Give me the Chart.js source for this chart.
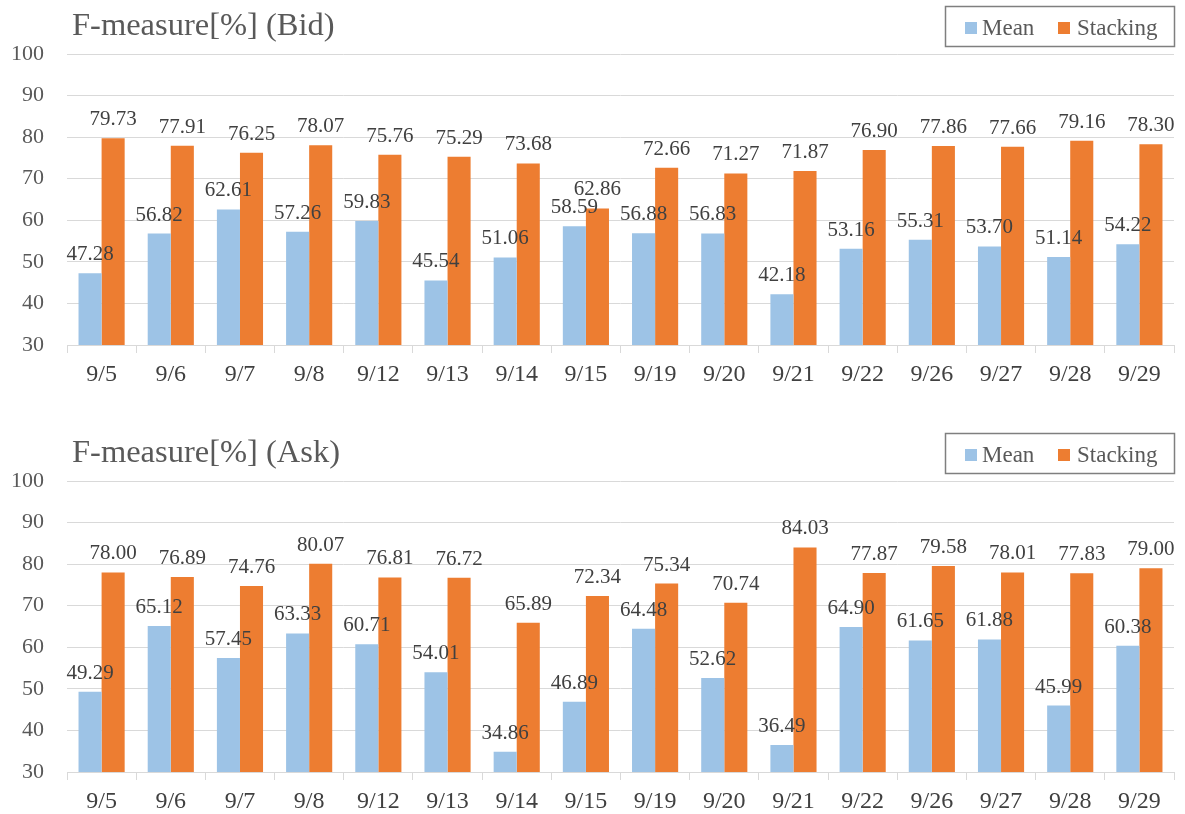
<!DOCTYPE html>
<html>
<head>
<meta charset="utf-8">
<script src="https://cdn.jsdelivr.net/npm/chart.js@4.4.0/dist/chart.umd.min.js"></script>
<style>
  html, body { margin: 0; padding: 0; background: #fff; overflow: hidden; }
  .box { position: absolute; left: 0; width: 1185px; height: 427px; }
</style>
</head>
<body>
<div class="box" style="top:0"><canvas id="bidChart"></canvas></div>
<div class="box" style="top:427px"><canvas id="askChart"></canvas></div>
<script>
// Data
const dates = ['9/5', '9/6', '9/7', '9/8', '9/12', '9/13', '9/14', '9/15', '9/19', '9/20', '9/21', '9/22', '9/26', '9/27', '9/28', '9/29'];
const bidMean = [47.28, 56.82, 62.61, 57.26, 59.83, 45.54, 51.06, 58.59, 56.88, 56.83, 42.18, 53.16, 55.31, 53.70, 51.14, 54.22];
const bidStacking = [79.73, 77.91, 76.25, 78.07, 75.76, 75.29, 73.68, 62.86, 72.66, 71.27, 71.87, 76.90, 77.86, 77.66, 79.16, 78.30];
const askMean = [49.29, 65.12, 57.45, 63.33, 60.71, 54.01, 34.86, 46.89, 64.48, 52.62, 36.49, 64.90, 61.65, 61.88, 45.99, 60.38];
const askStacking = [78.00, 76.89, 74.76, 80.07, 76.81, 76.72, 65.89, 72.34, 75.34, 70.74, 84.03, 77.87, 79.58, 78.01, 77.83, 79.00];
const yTicks = [30, 40, 50, 60, 70, 80, 90, 100];

const SERIF = '"Liberation Serif", "Times New Roman", serif';
const MEAN_COLOR = '#9DC3E6';
const STACK_COLOR = '#ED7D31';

// value labels above each bar
const barLabels = {
    id: 'barLabels',
    afterDatasetsDraw(chart) {
        const ctx = chart.ctx;
        ctx.save();
        ctx.font = '21px ' + SERIF;
        ctx.fillStyle = '#404040';
        ctx.textAlign = 'center';
        ctx.textBaseline = 'alphabetic';
        chart.data.datasets.forEach((ds, i) => {
            chart.getDatasetMeta(i).data.forEach((bar, j) => {
                ctx.fillText(ds.data[j].toFixed(2), bar.x, bar.y - 13);
            });
        });
        ctx.restore();
    }
};

// title on the left, boxed legend on the right
const header = {
    id: 'header',
    afterDraw(chart, args, opts) {
        const ctx = chart.ctx;
        ctx.save();
        ctx.font = '32.5px ' + SERIF;
        ctx.fillStyle = '#595959';
        ctx.textBaseline = 'alphabetic';
        ctx.textAlign = 'left';
        ctx.fillText(opts.text, 72, 35);

        ctx.strokeStyle = '#7f7f7f';
        ctx.lineWidth = 1.5;
        ctx.strokeRect(945.5, 6.5, 229, 40);
        ctx.font = '23px ' + SERIF;
        ctx.fillStyle = MEAN_COLOR;
        ctx.fillRect(965, 22, 12, 12);
        ctx.fillStyle = STACK_COLOR;
        ctx.fillRect(1058, 22, 12, 12);
        ctx.fillStyle = '#595959';
        ctx.fillText('Mean', 982, 35);
        ctx.fillText('Stacking', 1077, 35);
        ctx.restore();
    }
};

function makeChart(id, title, meanData, stackData) {
    const ctx = document.getElementById(id).getContext('2d');
    return new Chart(ctx, {
        type: 'bar',
        data: {
            labels: dates,
            datasets: [
                { label: 'Mean', data: meanData, backgroundColor: MEAN_COLOR },
                { label: 'Stacking', data: stackData, backgroundColor: STACK_COLOR }
            ]
        },
        options: {
            responsive: true,
            maintainAspectRatio: false,
            animation: false,
            devicePixelRatio: 1,
            datasets: { bar: { categoryPercentage: 0.667, barPercentage: 1.0 } },
            layout: { padding: { top: 54, right: 11, left: 0, bottom: 42 } },
            plugins: {
                legend: { display: false },
                tooltip: { enabled: false },
                header: { text: title }
            },
            scales: {
                x: {
                    afterFit(scale) { scale.height = 40; },
                    grid: { offset: true, drawOnChartArea: false, drawTicks: true, tickLength: 8, color: '#d9d9d9' },
                    border: { display: true, color: '#d9d9d9' },
                    ticks: { font: { family: SERIF, size: 24 }, color: '#404040', padding: 7, maxRotation: 0 }
                },
                y: {
                    min: 30,
                    max: 100,
                    afterFit(scale) { scale.width = 67; },
                    afterBuildTicks(scale) { scale.ticks = yTicks.map(v => ({ value: v })); },
                    grid: { color: '#d9d9d9', drawTicks: false },
                    border: { display: false },
                    ticks: { font: { family: SERIF, size: 22 }, color: '#595959', padding: 23 }
                }
            }
        },
        plugins: [barLabels, header]
    });
}

makeChart('bidChart', 'F-measure[%] (Bid)', bidMean, bidStacking);
makeChart('askChart', 'F-measure[%] (Ask)', askMean, askStacking);
</script>
</body>
</html>
